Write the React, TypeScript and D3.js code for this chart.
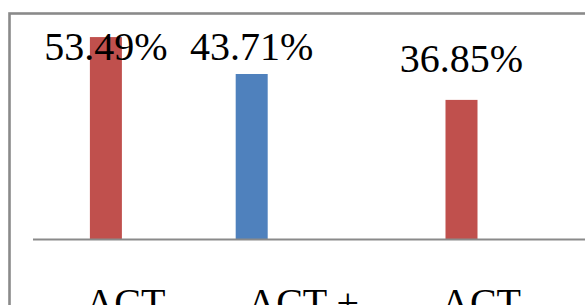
import React from "react";
import * as d3 from "d3";

// categories along the x axis (the picture is cropped at the bottom)
const categories = ["ACT", "ACT +", "ACT"];
// series slots of the clustered column chart
const seriesNames = ["Series 1", "Series 2", "Series 3", "Series 4"];
const seriesColors = ["#4F81BD", "#C0504D", "#9BBB59", "#8064A2"];
// values per series, one entry per category (null = no bar)
const series1 = [null, 43.71, null];
const series2 = [53.49, null, 36.85];
const series3 = [null, null, null];
const series4 = [null, null, null];

const seriesValues = [series1, series2, series3, series4];

const width = 585;
const height = 307;

const App = () => {
  const x0 = d3
    .scaleBand<number>()
    .domain(d3.range(categories.length))
    .range([33, 566.4])
    .paddingInner(0.28)
    .paddingOuter(0.14);

  const x1 = d3
    .scaleBand<number>()
    .domain(d3.range(seriesNames.length))
    .range([0, x0.bandwidth()]);

  const y = d3.scaleLinear().domain([0, 60]).range([239, 12.5]);

  const bars: { key: string; x: number; y: number; w: number; h: number; color: string; v: number }[] = [];
  seriesValues.forEach((vals, s) => {
    vals.forEach((v, c) => {
      if (v == null) return;
      bars.push({
        key: `${s}-${c}`,
        x: (x0(c) as number) + (x1(s) as number),
        y: y(v),
        w: x1.bandwidth(),
        h: y(0) - y(v),
        color: seriesColors[s],
        v,
      });
    });
  });

  const textStyle = { fontFamily: "Liberation Serif, Times New Roman, Times, serif", fontSize: "40px" };

  return (
    <svg
      width={width}
      height={height}
      style={{ position: "fixed", left: 0, top: 0, background: "#fff" }}
    >
      <defs>
        <clipPath id="crop">
          <rect x={0} y={0} width={width} height={305} />
        </clipPath>
      </defs>
      <rect x={0} y={0} width={width} height={height} fill="#fff" />
      <g clipPath="url(#crop)">
        {/* chart border */}
        <rect
          x={9.5}
          y={13.5}
          width={width + 20}
          height={height + 20}
          fill="none"
          stroke="#8a8a8a"
          strokeWidth={2.6}
        />
        {bars.map((b) => (
          <rect key={b.key} x={b.x} y={b.y} width={b.w} height={b.h} fill={b.color} />
        ))}
        {/* category axis */}
        <line x1={33} x2={width} y1={239.5} y2={239.5} stroke="#8a8a8a" strokeWidth={2.2} />
        {bars.map((b) => (
          <text
            key={"l" + b.key}
            x={b.x + b.w / 2}
            y={Math.max(59.5, b.y - 28)}
            textAnchor="middle"
            style={textStyle}
            fill="#000"
          >
            {d3.format(".2f")(b.v) + "%"}
          </text>
        ))}
        {categories.map((c, i) => (
          <text
            key={"c" + i}
            x={(x0(i) as number) + x0.bandwidth() / 2 + 3.5}
            y={316}
            textAnchor="middle"
            style={textStyle}
            fill="#000"
          >
            {c}
          </text>
        ))}
      </g>
    </svg>
  );
};

export default App;
